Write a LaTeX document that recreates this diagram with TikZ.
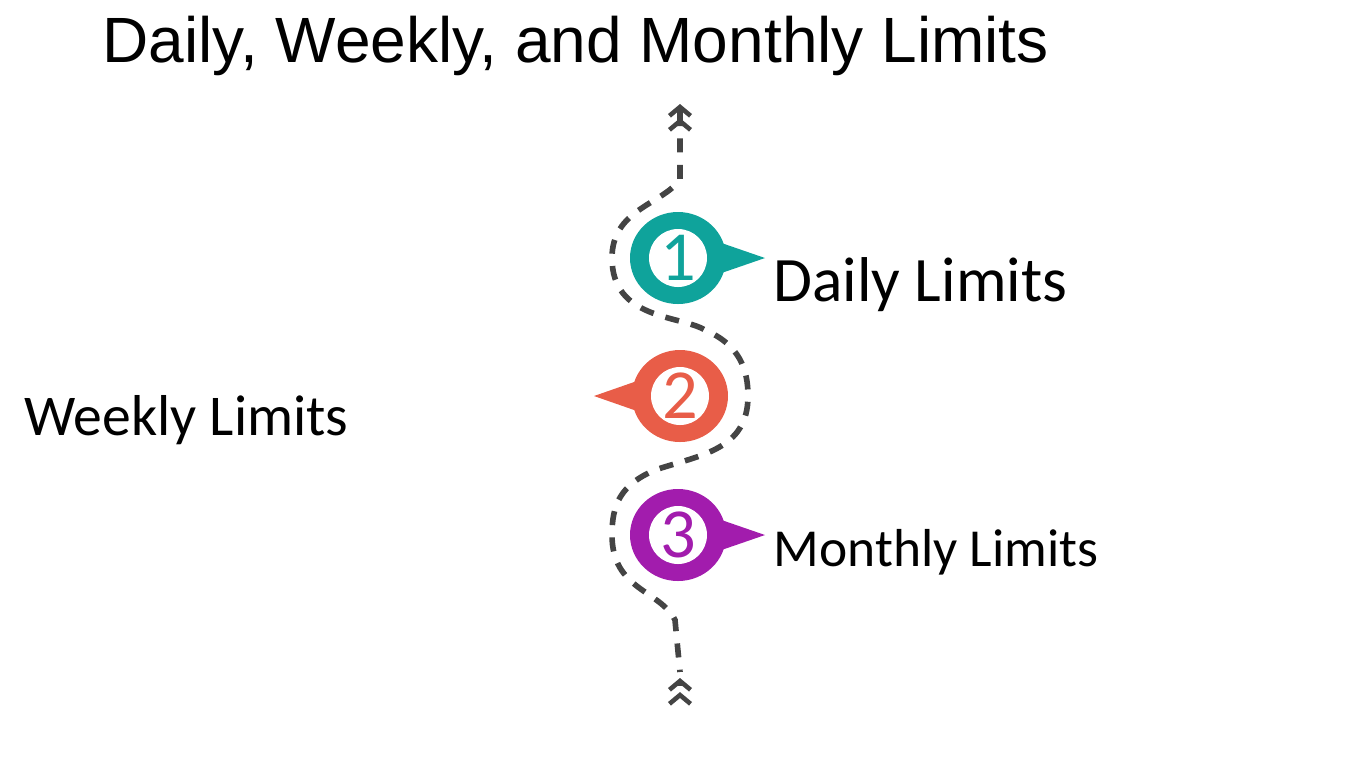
\documentclass[tikz,border=0pt]{standalone}
\usepackage{fontspec}
\setmainfont{Liberation Sans}
\newfontfamily\labelfont{Carlito}
\usetikzlibrary{arrows.meta}
\definecolor{tealc}{HTML}{0FA39B}
\definecolor{redc}{HTML}{E85D48}
\definecolor{purplec}{HTML}{A21CAD}
\definecolor{pathc}{HTML}{444444}
\tikzset{
	dashpath/.style={pathc, line width=1.6pt, dash pattern=on 4pt off 3.5pt},
	chevron/.style={-{Straight Barb[length=2.5pt,width=6pt,line width=1.3pt]Straight Barb[length=2.5pt,width=6pt,line width=1.3pt]}, pathc, line width=1.3pt},
	limitlabel/.style={anchor=west, inner sep=0pt},
	numlabel/.style={font=\labelfont\fontsize{20}{22}\selectfont}
}
\begin{document}
\begin{tikzpicture}[x=0.01cm, y=-0.01cm]
	\useasboundingbox (0,0) rectangle (1359,759);
	
	% Titel
	\node[anchor=west, inner sep=0pt, font=\fontsize{18.2}{21}\selectfont] (title) at (102,46) {Daily, Weekly, and Monthly Limits};
	
	% Gestrichelter Weg
	\coordinate (top) at (680,112);
	\coordinate (bottom) at (680,686);
	\draw[dashpath] (top) -- (680,180) .. controls (660,205) and (612,210) .. (612,258)
		.. controls (612,320) and (680,315) .. (705,330)
		.. controls (740,345) and (748,370) .. (748,396)
		.. controls (748,450) and (700,455) .. (655,470)
		.. controls (620,485) and (612,505) .. (612,535)
		.. controls (612,590) and (660,590) .. (675,620) -- (680,672);
	\draw[chevron] (top) -- ++(0,-8);
	\draw[chevron] (bottom) -- ++(0,-8);
	
	% Markierungen
	\foreach \n/\cx/\cy/\tx/\col in {1/678/258/765/tealc, 2/680/396/594/redc, 3/678/535/765/purplec} {
		\fill[\col] (\cx,\cy-30) -- (\tx,\cy) -- (\cx,\cy+30) -- cycle;
		\fill[\col] (\cx,\cy) circle[x radius=48, y radius=46];
		\fill[white] (\cx,\cy) circle[radius=29];
		\node[numlabel, text=\col] (num\n) at (\cx,\cy) {\n};
	}
	
	% Beschriftungen
	\node[limitlabel, font=\labelfont\fontsize{18}{20}\selectfont] (daily) at (773,285) {Daily Limits};
	\node[limitlabel, font=\labelfont\fontsize{16.4}{19}\selectfont] (weekly) at (24,420) {Weekly Limits};
	\node[limitlabel, font=\labelfont\fontsize{15.2}{18}\selectfont] (monthly) at (773,552) {Monthly Limits};
\end{tikzpicture}
\end{document}
